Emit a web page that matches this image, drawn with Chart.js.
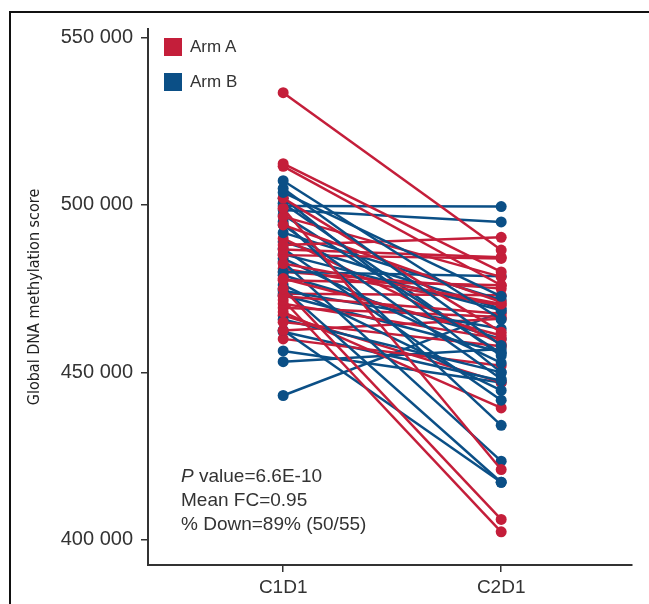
<!DOCTYPE html>
<html>
<head>
<meta charset="utf-8">
<script src="https://cdn.jsdelivr.net/npm/chart.js@4/dist/chart.umd.min.js"></script>
<style>
  body { margin: 0; width: 649px; height: 604px; overflow: hidden; background: #fff; position: relative; font-family: "Liberation Sans", Arial, sans-serif; }
  #frame { position: absolute; left: 9px; top: 11px; width: 800px; height: 800px; border-left: 2px solid #111; border-top: 2px solid #111; }
  #chart { position: absolute; left: 0; top: 0; }
  .legend { position: absolute; left: 164px; font-size: 17px; color: #333; }
  .legend span.box { position: absolute; left: 0; width: 18px; height: 18px; }
  .legend span.txt { position: absolute; left: 26px; top: -1px; white-space: nowrap; }
  #stats { position: absolute; left: 181px; top: 464px; font-size: 19px; line-height: 24px; color: #333; white-space: nowrap; }
</style>
</head>
<body>
<div id="frame"></div>
<canvas id="chart" width="649" height="604"></canvas>
<div class="legend" style="top:38px"><span class="box" style="background:#C41E3A"></span><span class="txt">Arm A</span></div>
<div class="legend" style="top:73px"><span class="box" style="background:#0B4F86"></span><span class="txt">Arm B</span></div>
<div id="stats"><i>P</i> value=6.6E-10<br>Mean FC=0.95<br>% Down=89% (50/55)</div>
<script>
// Datos
const categories = ["C1D1", "C2D1"];
const yTicks = [400000, 450000, 500000, 550000];
const seriesNames = ["Arm A", "Arm B"];
const colors = ["#C41E3A", "#0B4F86"];

const armA_C1D1 = [533500, 512300, 511500, 502000, 499000, 496500, 494000, 488000, 486700, 485000,
                   482500, 478000, 477500, 475000, 472700, 471600, 470500, 469300, 468000, 465000,
                   462500, 460000, 473500, 481000, 490000, 467000, 480000];
const armA_C2D1 = [486500, 480000, 476000, 462000, 421000, 478500, 471000, 490300, 484400, 484000,
                   470400, 461000, 476000, 406100, 467500, 402400, 460000, 466500, 439400, 457800,
                   466000, 452000, 473000, 470000, 458500, 447000, 475000];

const armB_C1D1 = [507200, 504900, 503700, 502000, 499700, 498500, 497000, 495000, 494000, 491700,
                   487000, 485300, 484000, 483000, 480000, 476100, 475000, 474400, 473000, 465800,
                   462600, 462100, 453200, 443100, 489000, 479000, 500500, 456400];
const armB_C2D1 = [465800, 458000, 472700, 450000, 499500, 494900, 455700, 434200, 448000, 471600,
                   441700, 468500, 452800, 423500, 478700, 444600, 417200, 463000, 456000, 450000,
                   417200, 447500, 457000, 468000, 469000, 460000, 455000, 447000];

// Un dataset por paciente (linea entre C1D1 y C2D1)
function pairDataset(a, b, color) {
    return {
        data: [{ x: 1, y: a }, { x: 2, y: b }],
        borderColor: color,
        backgroundColor: color,
        pointBackgroundColor: color,
        pointBorderWidth: 0,
        pointRadius: 5.5,
        borderWidth: 2.5,
        fill: false,
        tension: 0
    };
}

const datasets = [];
const n = Math.max(armA_C1D1.length, armB_C1D1.length);
for (let i = 0; i < n; i++) {
    if (i < armA_C1D1.length) datasets.push(pairDataset(armA_C1D1[i], armA_C2D1[i], colors[0]));
    if (i < armB_C1D1.length) datasets.push(pairDataset(armB_C1D1[i], armB_C2D1[i], colors[1]));
}

const fmt = v => String(v).replace(/\B(?=(\d{3})+(?!\d))/g, " ");

new Chart(document.getElementById("chart").getContext("2d"), {
    type: "line",
    data: { datasets: datasets },
    options: {
        responsive: false,
        animation: false,
        layout: { padding: { top: 29, right: 17, left: 0, bottom: 0 } },
        plugins: { legend: { display: false }, tooltip: { enabled: false } },
        scales: {
            x: {
                type: "linear",
                min: 0.38,
                max: 2.6,
                afterBuildTicks: s => { s.ticks = categories.map((c, i) => ({ value: i + 1 })); },
                afterFit: s => { s.height = 39; },
                ticks: {
                    callback: v => categories[v - 1],
                    color: "#333",
                    font: { family: "Liberation Sans", size: 19 },
                    padding: 4,
                    maxRotation: 0
                },
                grid: { drawOnChartArea: false, tickLength: 7, color: "#333", lineWidth: 1.5 },
                border: { color: "#333", width: 2 }
            },
            y: {
                min: 392500,
                max: 552500,
                afterBuildTicks: s => { s.ticks = yTicks.map(v => ({ value: v })); },
                afterFit: s => { s.width = 148; },
                ticks: {
                    callback: v => fmt(v),
                    color: "#333",
                    font: { family: "Liberation Sans", size: 20 },
                    padding: 8
                },
                grid: { drawOnChartArea: false, tickLength: 7, color: "#333", lineWidth: 1.5 },
                border: { color: "#333", width: 2 },
                title: {
                    display: true,
                    text: "Global DNA methylation score",
                    color: "#222",
                    font: { family: "'Liberation Sans Narrow', 'DejaVu Sans Condensed', sans-serif", size: 16 },
                    padding: { top: 25 }
                }
            }
        }
    }
});
</script>
</body>
</html>
